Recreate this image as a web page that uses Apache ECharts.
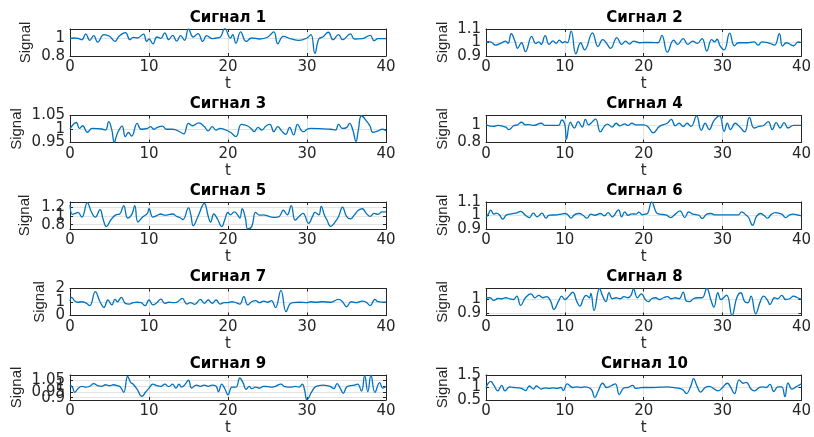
<!DOCTYPE html>
<html>
<head>
<meta charset="utf-8">
<script src="https://cdn.jsdelivr.net/npm/echarts@6/dist/echarts.min.js"></script>
<style>html,body{margin:0;padding:0;background:#fff;}#c{width:814px;height:437px;}</style>
</head>
<body>
<div id="c"></div>
<script>
// ---------- data ----------
const TITLES = ['Сигнал 1','Сигнал 2','Сигнал 3','Сигнал 4','Сигнал 5','Сигнал 6','Сигнал 7','Сигнал 8','Сигнал 9','Сигнал 10'];
const X_TICKS = [0, 10, 20, 30, 40];

const T1 = [0,0.5,1,1.5,2,2.5,3,3.5,4.3,5,5.7,6.2,7,7.6,8,8.5,9.3,9.7,10,10.5,11,11.5,12,12.5,13,13.5,14,14.5,15,15.6,16.2,16.8,17.3,18,18.5,19,19.6,20.3,20.6,21,21.6,22.3,23,24,25,25.8,26.3,27,28,29,30,30.5,31,31.5,32,32.7,33.3,34,34.5,35.5,36,37,38,38.5,39,40];
const S1 = [0.992,1.0,0.996,0.981,1.045,0.974,1.026,0.955,1.038,1.019,0.962,1.019,1.060,0.981,1.008,1.0,1.042,0.962,0.989,0.936,1.011,0.996,1.057,0.981,1.030,0.966,1.026,0.974,1.102,1.011,1.049,0.962,1.026,0.992,1.0,1.008,1.106,1.0,1.038,0.943,1.068,0.962,1.0,0.989,1.008,1.068,0.936,1.019,0.989,0.974,1.0,1.038,0.830,0.989,1.011,1.064,0.981,1.038,0.981,1.045,0.989,0.992,1.030,0.970,0.992,0.992];

const T2 = [0,0.3,0.7,1.2,2,2.5,2.8,3.2,3.7,4,4.5,5,5.8,6.3,6.7,7,7.5,8,8.5,8.9,9.3,9.7,10,10.3,10.8,11.4,12,12.5,13.5,14.2,14.8,15.3,15.8,16.6,17.2,17.7,18.2,18.7,19.5,20,21,21.8,22.3,23,23.8,24.3,25,25.6,26.2,26.8,27.4,28,28.6,29,29.3,29.7,30.2,30.9,31.5,32,33,34,34.5,35,36,36.6,37.2,37.6,38.1,39,39.6,40];
const S2 = [1.0,1.007,1.002,0.981,0.998,1.010,0.993,1.065,1.005,0.957,0.998,0.933,1.046,0.993,1.005,0.986,1.051,0.986,1.012,0.993,1.017,0.998,1.007,0.998,1.084,0.916,0.998,0.945,1.072,0.969,1.022,0.993,0.957,1.036,0.986,1.010,0.988,1.010,0.998,1.0,1.0,0.998,1.053,0.928,1.017,0.986,1.029,0.986,1.010,0.993,1.029,0.937,1.022,1.005,1.024,0.973,0.945,1.070,0.976,0.998,0.998,1.005,0.981,1.005,0.993,0.981,1.065,0.973,0.998,0.976,1.005,0.998];

const T3 = [0,0.8,1.2,1.6,2.2,2.8,4,4.5,4.9,5.3,5.6,6,6.6,7,7.4,7.8,8.5,9,9.8,10.2,10.6,11,11.7,12.2,13,14,14.4,15,15.5,16.3,17,17.5,18,18.5,19,19.5,20.3,21,21.7,22.5,23,23.3,23.8,24.3,24.8,25.3,25.8,26.3,26.8,27.3,27.8,28.3,28.8,29.3,29.6,30,30.5,33,33.6,34,34.5,35,35.4,35.8,36.2,36.5,36.9,37.6,38,38.3,39,39.5,40];
const S3 = [1.0,1.024,1.002,1.012,0.988,1.002,1.0,0.996,1.027,0.996,0.951,0.984,1.011,0.972,0.987,0.974,1.021,0.999,1.002,1.009,0.999,1.005,1.011,0.999,0.999,0.988,0.982,1.021,1.012,1.023,1.009,0.993,1.009,0.996,1.002,0.999,0.988,0.972,1.017,1.011,0.999,0.990,1.006,0.996,1.011,1.017,0.990,1.009,0.993,0.980,1.006,0.978,1.017,0.994,0.990,0.999,1.002,0.999,0.996,1.017,1.002,1.005,1.021,0.996,0.954,0.996,1.049,1.027,1.009,0.988,0.993,0.999,0.994];

const T4 = [0,1,1.5,2.5,2.9,3.5,4,4.5,5,5.5,6,7,7.5,8.5,9.2,9.6,10,10.2,10.7,11.2,11.7,12.2,12.6,13,13.5,13.9,14.5,15,15.4,16,16.5,17,17.6,18,18.5,19,20,20.5,21.2,22,23,23.5,24,24.5,25,25.5,26,26.7,27.3,27.8,28.3,28.9,29.6,30.2,30.6,31,31.6,32.2,32.8,33.4,34,34.6,35.2,35.8,36.3,36.8,37.3,37.8,38.3,39,40];
const S4 = [1.008,0.989,1.0,0.981,0.951,0.996,1.008,1.038,1.008,1.011,1.0,1.026,1.0,1.0,1.0,1.064,1.008,0.838,1.038,0.970,1.045,0.981,1.072,1.008,1.045,1.075,0.925,0.989,1.015,0.981,1.026,0.996,1.019,1.0,1.026,1.008,1.008,0.989,0.913,0.989,1.026,1.072,0.996,1.026,0.989,1.026,0.989,1.113,0.943,1.026,0.951,1.057,1.113,0.932,1.026,0.951,1.026,0.981,0.925,1.094,0.970,0.989,1.0,1.045,0.951,1.034,0.970,1.034,0.970,1.0,1.0];

const T5 = [0,0.3,0.7,1,1.5,2.2,2.7,3.2,3.8,4.2,4.6,5.2,5.8,6.3,6.8,7.3,7.8,8.2,8.6,9.2,9.8,10,10.5,11,11.5,12,13,13.5,14,14.3,15,15.3,15.6,16.2,17,17.5,17.8,18.2,18.7,19.2,19.6,20,20.3,20.8,21.2,21.5,21.8,22.2,22.5,23,23.5,24,24.5,25,25.5,26,26.5,27,27.5,28,28.5,29,29.5,30.2,30.7,31,31.5,31.8,32.2,32.5,33,33.5,34,34.5,35,35.5,36,36.5,37,37.5,38,38.5,39,39.5,40];
const S5 = [1.266,1.043,1.065,1.086,0.978,1.317,1.101,0.978,1.151,0.921,0.755,0.921,1.029,1.050,1.245,0.957,1.029,1.245,0.863,0.978,1.065,1.173,0.978,1.014,1.050,1.022,1.050,0.993,0.957,0.921,1.194,1.029,0.777,0.993,1.295,0.993,0.863,1.050,0.921,0.755,0.921,1.086,1.029,1.101,1.029,0.957,1.173,0.957,0.705,0.755,1.086,1.022,1.029,1.007,0.978,0.971,0.993,1.137,1.029,1.245,0.906,0.993,1.065,0.834,0.993,1.086,1.029,1.230,1.029,0.921,0.762,0.849,0.993,1.209,0.993,0.935,1.029,1.137,1.173,1.065,0.993,1.065,1.043,1.101,1.101];

const T6 = [0,0.3,0.6,1,1.3,1.7,2.1,2.6,3,3.5,4,4.4,5,5.5,6,6.5,7.1,7.6,8,9,9.5,10,10.3,10.8,11.2,11.8,12.3,12.8,13.3,13.8,14.5,15,15.5,16,16.8,17.2,17.6,18,18.5,19,19.4,19.8,20.2,20.5,21,21.6,22,22.8,23.4,24,24.6,25.2,25.7,26.2,27,27.4,28,28.5,29,30,32,32.4,33,33.3,33.8,34.3,34.8,35.3,35.7,36.2,36.7,37.5,38,38.5,39,39.5,40];
const S6 = [0.985,1.010,1.040,1.010,1.017,1.005,0.973,1.005,1.010,1.015,1.022,1.030,1.002,0.985,1.017,0.990,1.017,0.980,1.002,1.005,1.010,1.015,1.010,0.980,1.005,1.015,1.002,0.980,1.010,1.002,1.015,0.998,1.022,0.990,1.042,0.990,1.027,1.002,1.012,1.010,1.025,1.005,1.010,1.015,1.101,1.022,1.010,1.005,0.985,1.010,1.035,0.985,1.027,1.010,1.002,0.978,1.010,1.015,1.005,1.005,1.005,1.027,1.002,0.985,0.928,0.993,1.015,0.998,0.980,1.010,1.022,1.010,0.985,1.005,1.010,1.005,0.998];

const T7 = [0,0.2,0.6,1,1.5,2,2.5,3.2,3.8,4.3,4.8,5.3,5.7,6,6.5,7,7.5,8,8.5,9,9.5,10,10.5,11,11.5,12,12.5,13,13.5,14.2,14.8,15.2,15.8,16.5,17,17.5,18,18.5,19,19.5,20,20.5,21,21.5,22,22.5,23,23.5,24,24.5,25,25.5,26,26.7,27.35,27.8,28.2,29,30,30.5,31,32,33,34,34.5,35,35.6,36.2,37,37.5,38,38.6,39,40];
const S7 = [1.07,1.35,1.07,0.98,1.02,0.93,0.73,1.77,1.02,0.60,1.15,0.78,1.20,1.02,1.35,0.90,0.85,0.95,0.98,0.95,0.73,1.15,0.78,0.95,1.22,0.90,0.98,0.95,0.98,1.27,0.85,0.95,0.83,1.20,0.90,1.15,0.90,1.15,0.85,0.95,0.95,1.02,0.95,0.85,1.40,0.78,1.02,1.10,0.95,1.07,0.98,1.10,0.58,1.86,0.28,0.83,0.95,0.98,0.95,1.02,0.98,1.02,0.98,1.20,1.02,0.65,1.02,0.95,1.07,0.98,0.73,1.20,1.02,0.98];

const T8 = [0,0.5,1,1.5,2,2.5,3,3.5,3.9,4.4,5,5.7,6.2,6.7,7.2,7.7,8.2,8.6,9.2,9.6,10,10.5,11,11.5,11.9,12.4,12.7,13.1,13.3,13.7,14.4,14.8,15.2,15.6,16,16.5,17,17.5,18,18.4,18.7,19.2,19.7,20.2,20.6,21,21.5,22,22.5,23,23.5,24,24.5,25,25.4,25.8,26.3,26.8,27.4,28,28.5,28.9,29.4,29.8,30.5,31.2,31.8,32.3,32.8,33.2,33.6,34.2,34.8,35.2,35.7,36,36.6,37,37.5,38,38.5,39,39.5,40];
const S8 = [1.007,1.007,0.989,1.002,1.0,1.007,1.0,0.995,1.018,0.955,1.007,1.034,1.007,1.023,1.007,1.014,0.984,0.927,0.984,1.018,0.995,1.018,1.045,0.984,0.950,1.007,1.023,1.007,1.036,0.920,1.070,1.018,0.980,1.041,1.0,1.007,1.0,1.014,1.007,1.025,1.068,1.007,1.034,0.995,0.980,1.0,1.007,0.995,1.007,1.014,1.0,1.007,1.0,1.045,0.984,0.980,1.0,1.007,1.007,1.070,0.995,0.943,1.041,0.995,1.025,0.886,1.007,1.041,0.980,0.973,1.018,0.898,0.984,1.018,0.989,0.961,1.007,1.0,1.023,0.995,1.0,1.018,1.007,0.998];

const T9 = [0,0.3,0.6,1,1.5,2,2.5,3,3.5,4,4.5,5,5.5,6,6.4,6.8,7.3,7.7,8,8.5,9.1,9.6,10,10.5,11,11.5,12,12.5,13,13.4,13.8,14.1,14.5,15,15.4,16,16.5,17,17.5,18,18.5,18.8,19.2,19.6,20,20.5,21,21.5,21.9,22.3,22.7,23,23.5,24,24.5,25,25.5,26,26.7,27.2,28,28.5,29,29.4,29.7,30,30.6,31,31.5,32,32.5,33,33.4,33.8,34.2,34.6,35,35.5,36,36.4,36.9,37.3,37.7,38.1,38.6,39.2,39.6,40];
const S9 = [1.008,0.990,0.946,0.977,0.998,0.990,0.998,1.021,1.003,0.998,1.011,1.003,1.011,1.003,0.990,0.946,1.082,1.029,1.016,0.972,0.911,0.951,0.982,1.016,1.003,0.998,1.016,0.995,1.016,0.982,1.016,0.990,1.008,1.050,0.982,1.008,0.998,1.008,0.998,1.008,0.998,0.951,1.016,0.977,0.925,0.990,0.990,1.069,1.029,0.972,0.998,0.977,0.990,0.982,0.998,0.995,0.990,0.998,1.016,0.995,0.990,0.998,0.990,1.016,0.964,0.882,0.951,0.990,1.003,1.008,1.003,0.995,0.977,1.021,0.982,0.938,0.990,1.003,1.008,1.016,0.956,1.090,0.951,1.093,0.946,1.029,0.982,0.998];

const T10 = [0,0.6,1,1.5,2,2.4,3,3.5,4,4.5,5,5.5,6,6.4,7,7.5,8,8.5,9,9.5,9.8,10.3,11,11.5,12,12.5,13,13.4,13.8,14.2,14.8,15.3,15.8,16.4,16.9,17.5,18,18.6,19,19.5,20,21,22,23,24,24.5,25,25.4,26,26.3,26.8,27.2,27.8,28.3,29,29.4,30,30.6,31,31.5,32.1,32.6,33,33.6,34,34.6,35,35.5,36,36.5,37,37.5,37.9,38.3,38.8,39.3,40];
const S10 = [1.0,1.244,1.085,0.866,1.085,0.866,1.024,1.0,0.988,0.963,0.878,1.061,0.939,1.061,0.939,0.988,0.963,0.988,0.963,1.0,0.878,1.146,1.0,1.024,1.0,1.024,1.0,0.902,0.598,0.841,1.171,1.0,1.061,1.146,0.720,0.988,1.0,1.085,0.963,0.988,1.0,1.0,1.012,1.024,0.988,0.963,0.902,0.756,1.085,1.354,1.024,0.817,1.0,1.049,0.927,0.866,1.0,1.171,1.024,0.756,1.305,1.171,1.207,0.939,0.866,0.988,1.024,1.0,1.122,0.841,1.024,1.024,0.634,1.183,0.939,1.024,1.146];

const TIMES = [T1,T2,T3,T4,T5,T6,T7,T8,T9,T10];
const SIGNALS = [S1,S2,S3,S4,S5,S6,S7,S8,S9,S10];
const Y_MIN = [0.8, 0.9, 0.95, 0.8, 0.7, 0.9, 0, 0.886, 0.88, 0.5];
const Y_MAX = [1.1, 1.1, 1.05, 1.117, 1.33, 1.1, 2, 1.07, 1.095, 1.5];
const Y_TICKS = [[0.8,1],[0.9,1,1.1],[0.95,1,1.05],[0.8,1],[0.8,1,1.2],[0.9,1,1.1],[0,1,2],[0.9,1],[0.9,0.95,1,1.05],[0.5,1,1.5]];

// ---------- layout ----------
const COL_LEFT = [70, 486];
const COL_W = [316, 317];
const ROW_TOP = [29, 115.5, 202, 288.5, 375];
const PLOT_H = 27;
const NAME_GAP = [37, 36, 46, 36, 38, 36, 23, 36, 46, 36];
const INK = '#262626';
const FONT = 'DejaVu Sans';

const grid = [], xAxis = [], yAxis = [], series = [], graphic = [];
for (let i = 0; i < 10; i++) {
  const col = i % 2, row = Math.floor(i / 2);
  grid.push({ left: COL_LEFT[col], top: ROW_TOP[row], width: COL_W[col], height: PLOT_H, containLabel: false });
  const xi = xAxis.length, yi = yAxis.length;
  xAxis.push({
    type: 'value', gridIndex: i, min: 0, max: 40, interval: 10, position: 'bottom',
    axisLine: { show: true, onZero: false, lineStyle: { color: INK, width: 1 } },
    axisTick: { show: true, inside: true, length: 3, lineStyle: { color: INK } },
    axisLabel: { color: INK, fontFamily: FONT, fontSize: 15, margin: 4, hideOverlap: false,
      showMinLabel: true, showMaxLabel: true },
    splitLine: { show: true, lineStyle: { color: '#e3e3e3', width: 1 } },
    name: 't', nameLocation: 'middle', nameGap: 21,
    nameTextStyle: { color: INK, fontFamily: FONT, fontSize: 15 }
  });
  xAxis.push({
    type: 'value', gridIndex: i, min: 0, max: 40, interval: 10, position: 'top',
    axisLine: { show: true, onZero: false, lineStyle: { color: INK, width: 1 } },
    axisTick: { show: true, inside: true, length: 3, lineStyle: { color: INK } },
    axisLabel: { show: false }, splitLine: { show: false }
  });
  yAxis.push({
    type: 'value', gridIndex: i, min: Y_MIN[i], max: Y_MAX[i], position: 'left',
    axisLine: { show: true, onZero: false, lineStyle: { color: INK, width: 1 } },
    axisTick: { show: true, inside: true, length: 3, lineStyle: { color: INK }, customValues: Y_TICKS[i] },
    axisLabel: { show: false, customValues: Y_TICKS[i] },
    splitLine: { show: true, lineStyle: { color: '#e3e3e3', width: 1 } },
    name: 'Signal', nameLocation: 'middle', nameGap: NAME_GAP[i], nameRotate: 90,
    nameTextStyle: { color: INK, fontFamily: 'Liberation Sans', fontSize: 15 }
  });
  yAxis.push({
    type: 'value', gridIndex: i, min: Y_MIN[i], max: Y_MAX[i], position: 'right',
    axisLine: { show: true, onZero: false, lineStyle: { color: INK, width: 1 } },
    axisTick: { show: true, inside: true, length: 3, lineStyle: { color: INK }, customValues: Y_TICKS[i] },
    axisLabel: { show: false }, splitLine: { show: false }
  });
  series.push({
    type: 'line', xAxisIndex: xi, yAxisIndex: yi,
    data: TIMES[i].map((t, k) => [t, SIGNALS[i][k]]),
    showSymbol: false, smooth: 0.45, clip: true,
    lineStyle: { color: '#0072BD', width: 1.3 },
    itemStyle: { color: '#0072BD' }, animation: false
  });
  graphic.push({
    type: 'text', x: COL_LEFT[col] + COL_W[col] / 2, y: ROW_TOP[row] - 11,
    style: { text: TITLES[i], textAlign: 'center', textVerticalAlign: 'middle',
      font: 'bold 15px "DejaVu Sans"', fill: '#000' }
  });
}

const chart = echarts.init(document.getElementById('c'), null, { renderer: 'canvas' });
chart.setOption({ animation: false, backgroundColor: '#fff', grid, xAxis, yAxis, series, graphic });

// y tick labels placed through the library's own y scales (all shown, overlapping allowed)
for (let i = 0; i < 10; i++) {
  const col = i % 2;
  Y_TICKS[i].forEach(v => {
    const py = chart.convertToPixel({ yAxisIndex: 2 * i }, v);
    graphic.push({
      type: 'text', x: COL_LEFT[col] - 5, y: py,
      style: { text: String(v), textAlign: 'right', textVerticalAlign: 'middle',
        font: '15px "DejaVu Sans"', fill: INK }
    });
  });
}
chart.setOption({ graphic });
</script>
</body>
</html>
